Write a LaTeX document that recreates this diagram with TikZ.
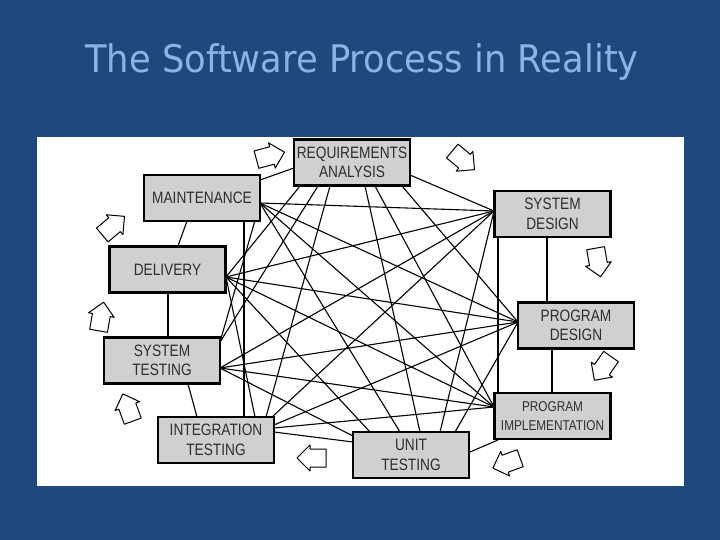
\documentclass[tikz,border=0pt]{standalone}
\usepackage{fontspec}
\setmainfont{Liberation Sans}
\newfontfamily\titlefont[FakeStretch=0.93]{DejaVu Sans}
\newfontfamily\boxfont[FakeStretch=0.83]{Liberation Sans}
\definecolor{bg}{HTML}{1F497D}
\definecolor{ttl}{HTML}{8DB3E2}
\definecolor{boxgray}{HTML}{D0D0D0}
\definecolor{txt}{HTML}{2E2E2E}
\pgfdeclarelayer{panel}
\pgfdeclarelayer{lines}
\pgfsetlayers{panel,lines,main}
\tikzset{
  box/.style={draw=black, line width=2.2pt, fill=boxgray, align=center, inner sep=0pt,
    font=\boxfont\fontsize{16.5}{19.5}\selectfont, text=txt, minimum width=116pt, minimum height=46pt},
  conn/.style={line width=1.1pt, black},
  loopshape/.pic={\draw[line width=1pt, line join=round, fill=white]
     (-14,-9) -- (2,-9) -- (2,-13) -- (15,0) -- (2,13) -- (2,9) -- (-14,9) -- cycle;}
}
\begin{document}
\begin{tikzpicture}[x=1pt,y=-1pt]
\begin{pgfonlayer}{panel}
\fill[bg] (0,0) rectangle (720,540);
\fill[white] (37,137) rectangle (684,486);
\end{pgfonlayer}
\useasboundingbox (0,0) rectangle (720,540);
% title
\node[font=\titlefont\fontsize{38}{40}\selectfont, text=ttl, anchor=base] (title) at (362,73) {The Software Process in Reality};
% boxes
\node[box] (R) at (352,162.5) {REQUIREMENTS\\ANALYSIS};
\node[box] (M) at (202,198) {MAINTENANCE};
\node[box] (D) at (167.5,269.5) {DELIVERY};
\node[box] (SD) at (552.5,214) {SYSTEM\\DESIGN};
\node[box] (PD) at (576,325.5) {PROGRAM\\DESIGN};
\node[box, font=\boxfont\fontsize{14.2}{19}\selectfont] (PI) at (552.5,416) {PROGRAM\\IMPLEMENTATION};
\node[box] (UT) at (411,455) {UNIT\\TESTING};
\node[box] (IT) at (216,440) {INTEGRATION\\TESTING};
\node[box] (ST) at (162,360.5) {SYSTEM\\TESTING};
% anchor coordinates
\coordinate (SDh) at (494,211);
\coordinate (PDh) at (518,322);
\coordinate (PIh) at (494,407);
\coordinate (Dh) at (226,277);
\coordinate (Mh) at (260,203);
\coordinate (STh) at (220,368);
\coordinate (STt) at (220,342);
\coordinate (Rr) at (410,175);
\coordinate (Rl) at (294,168);
\coordinate (Ml) at (260,180);
\coordinate (Rb1) at (300,186);
\coordinate (Rb2) at (318,186);
\coordinate (Rb3) at (330,186);
\coordinate (Rb4) at (365,186);
\coordinate (Rb5) at (375,186);
\coordinate (Rb6) at (402,186);
\coordinate (SDb1) at (547,237);
\coordinate (PDt) at (547,302);
\coordinate (SDb2) at (498,237);
\coordinate (PIt1) at (498,393);
\coordinate (PDb) at (552,349);
\coordinate (PIt2) at (552,393);
\coordinate (UTr) at (470,452);
\coordinate (PIbl) at (498,440);
\coordinate (Mb1) at (187,221);
\coordinate (Dt) at (178,246);
\coordinate (Db) at (168,293);
\coordinate (STtop) at (168,337);
\coordinate (Mb2) at (244,221);
\coordinate (ITt1) at (244,417);
\coordinate (STb) at (188,384);
\coordinate (ITt0) at (197,417);
\coordinate (ITt2) at (255,417);
\coordinate (ITt3) at (266,417);
\coordinate (ITt4) at (272,417);
\coordinate (ITr1) at (274,425);
\coordinate (ITr2) at (274,432);
\coordinate (ITr3) at (274,428);
\coordinate (UTl) at (353,442);
\coordinate (UTl2) at (353,436);
\coordinate (UTt1) at (370,432);
\coordinate (UTt2) at (400,432);
\coordinate (UTt3) at (420,432);
\coordinate (UTt4) at (440,432);
\coordinate (UTt5) at (455,432);
\begin{pgfonlayer}{lines}
% SYSTEM DESIGN
\draw[conn] (Rr) -- (SDh);
\draw[conn] (Mh) -- (SDh);
\draw[conn] (Dh) -- (SDh);
\draw[conn] (STh) -- (SDh);
\draw[conn] (ITt4) -- (SDh);
\draw[conn] (UTt4) -- (SDh);
\draw[conn] (SDb1) -- (PDt);
\draw[conn] (SDb2) -- (PIt1);
% PROGRAM DESIGN
\draw[conn] (Rb6) -- (PDh);
\draw[conn] (Mh) -- (PDh);
\draw[conn] (Dh) -- (PDh);
\draw[conn] (STh) -- (PDh);
\draw[conn] (ITr1) -- (PDh);
\draw[conn] (UTt5) -- (PDh);
\draw[conn] (PDb) -- (PIt2);
% PROGRAM IMPLEMENTATION
\draw[conn] (Rb5) -- (PIh);
\draw[conn] (Mh) -- (PIh);
\draw[conn] (Dh) -- (PIh);
\draw[conn] (STh) -- (PIh);
\draw[conn] (ITr3) -- (PIh);
\draw[conn] (UTr) -- (PIbl);
% DELIVERY
\draw[conn] (Rb1) -- (Dh);
\draw[conn] (Mb1) -- (Dt);
\draw[conn] (Db) -- (STtop);
\draw[conn] (Dh) -- (ITt2);
\draw[conn] (Dh) -- (UTt1);
% MAINTENANCE
\draw[conn] (Ml) -- (Rl);
\draw[conn] (Mb2) -- (ITt1);
\draw[conn] (Mh) -- (STt);
\draw[conn] (Mh) -- (UTt2);
% SYSTEM TESTING
\draw[conn] (Rb2) -- (STt);
\draw[conn] (STb) -- (ITt0);
\draw[conn] (STh) -- (UTl2);
% INTEGRATION TESTING
\draw[conn] (Rb3) -- (ITt3);
\draw[conn] (ITr2) -- (UTl);
% UNIT TESTING
\draw[conn] (Rb4) -- (UTt3);
\end{pgfonlayer}
% loop arrows
\pic[rotate=15] at (270,156) {loopshape};
\pic[rotate=-40] at (463,160) {loopshape};
\pic[rotate=-80] at (598,262) {loopshape};
\pic[rotate=-125] at (603,368) {loopshape};
\pic[rotate=-160] at (507,463) {loopshape};
\pic[rotate=180] at (312,458) {loopshape};
\pic[rotate=110] at (128,408) {loopshape};
\pic[rotate=80] at (101,317) {loopshape};
\pic[rotate=40] at (113,226) {loopshape};
\end{tikzpicture}
\end{document}
